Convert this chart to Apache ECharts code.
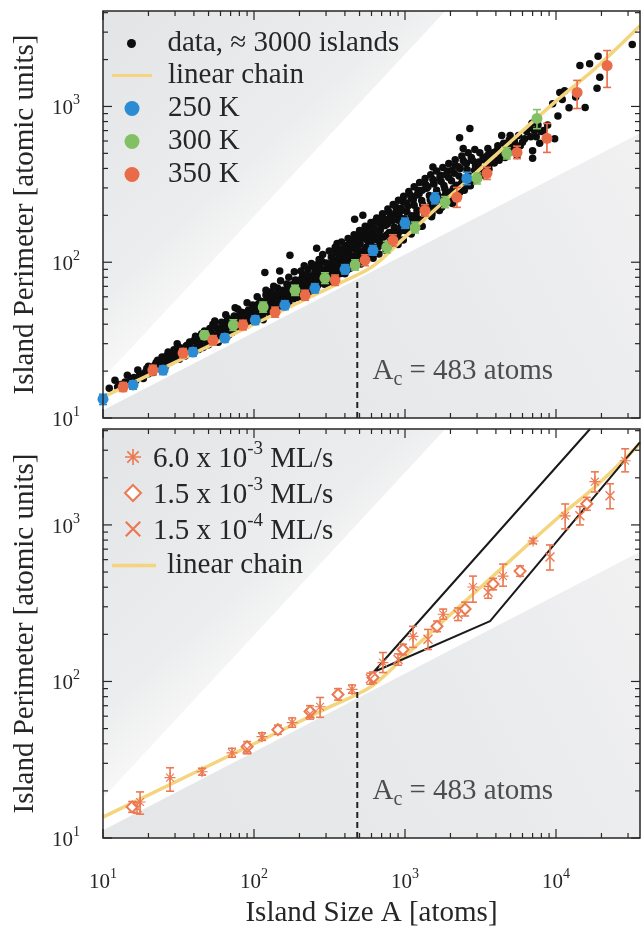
<!DOCTYPE html>
<html>
<head>
<meta charset="utf-8">
<title>Island perimeter vs island size</title>
<script src="https://cdn.jsdelivr.net/npm/echarts@6.0.0/dist/echarts.min.js"></script>
</head>
<body style="margin:0;background:#fff">
<div id="main" style="width:644px;height:929px"></div>
<script>
// axis ranges
var xMin = 10, xMax = 36000, yMin = 10, yMax = 4100;

// tick positions (log axes, drawn by hand so minor ticks sit on 2..9)
var xTicksMajor = [10, 100, 1000, 10000];
var xTicksMinor = [20, 30, 40, 50, 60, 70, 80, 90, 200, 300, 400, 500, 600, 700, 800, 900,
    2000, 3000, 4000, 5000, 6000, 7000, 8000, 9000, 20000, 30000];
var yTicksMajor = [10, 100, 1000];
var yTicksMinor = [20, 30, 40, 50, 60, 70, 80, 90, 200, 300, 400, 500, 600, 700, 800, 900, 2000, 3000, 4000];

// borders of the allowed (white) band
var compactEdge = [[10, 11.2], [36000, 673]];
var chainEdge = [[10, 18], [1850, 4100]];

// linear chain model curve
var chainCurve = [[10, 13.6], [100, 40], [300, 67], [600, 93], [1000, 145], [2000, 268],
    [3830, 471], [10000, 1083], [18500, 1780], [36000, 3300]];

// critical size marker
var acTop = [[483, 10], [483, 76]];
var acBottom = [[483, 10], [483, 90]];
var acLabelPos = [[604, 19.4]];

var cloudPts = [
    [11, 15.5], [12, 17.5], [12.5, 15.8], [13, 16.4], [14, 17], [14.5, 18.8], [15, 16.9], [16, 18.2],
    [16.5, 17.4], [17, 20.3], [18, 18.5], [19, 19.6], [20, 19.2], [20, 21.5],
    [21, 20.4], [22, 21.8], [23, 23.5], [24, 20.9], [24.6, 24.6], [25, 22.4], [26, 21.6], [27, 23.8],
    [27, 26.5], [28, 22.9], [29, 25.1], [30, 24], [31, 30], [31, 26.8], [32, 23.8], [33, 25.5],
    [34, 27.6], [35, 25], [36, 29.3], [37, 26.4], [38, 28.6], [39, 27.2], [40, 31.5], [40, 26.8],
    [42, 29], [43, 27.5], [44, 32.8], [45, 30.2], [46, 28.3], [48, 33.6], [49, 30.7], [50, 29.5],
    [52, 35.4], [53.5, 40], [54, 31.6], [56, 33.2], [57, 37.5], [58, 30.6], [60, 34.8], [62, 38.5],
    [63, 32.4], [65, 36.9], [66, 41.6], [68, 34.1], [70, 39.2], [72, 35.5], [75, 51], [75, 42.3],
    [76, 37.6], [78, 40.8], [80, 44.6], [82, 38.3], [84, 47.5], [86, 41.2], [88, 43.8], [90, 39.6],
    [92, 49.3], [94, 44.5], [96, 41.8], [98, 53.2], [100, 46.5],
    [102, 42.4], [105, 50.6], [108, 44.9], [110, 56.3], [112, 47.1], [115, 42.8], [118, 86], [118, 52.5],
    [120, 61.5], [122, 48.2], [125, 55.4], [128, 50.8], [130, 64.7], [133, 46.9], [136, 58.1], [140, 52.6],
    [143, 68.2], [148, 88], [148, 55.7], [150, 60.4], [153, 51.3], [157, 64.9], [160, 57.8], [165, 72.5],
    [170, 54.6], [173, 111], [173, 62.4], [178, 68.9], [183, 58.3], [188, 76.8], [193, 65.2], [198, 60.5],
    [205, 71.4], [210, 82.3], [215, 63.8], [220, 74.6], [228, 90.5], [235, 68.1], [240, 79.3], [248, 70.4],
    [255, 86.7], [260, 123], [262, 96.2], [268, 74.8], [275, 83.5], [282, 101], [290, 78.2], [298, 90.1],
    [305, 72.5], [312, 97.4], [318, 84.3], [325, 108], [333, 79.6], [340, 92.8], [348, 116], [355, 132],
    [355, 86.5], [362, 101], [370, 89.4], [378, 121], [385, 95.6], [393, 108], [400, 84.2], [410, 128],
    [418, 99.3], [425, 114], [433, 91.5], [442, 137], [450, 105], [464, 189], [464, 122], [475, 98.5],
    [485, 146], [495, 112], [505, 131], [526, 200], [518, 104], [530, 158], [542, 121], [555, 140],
    [568, 113], [580, 169], [594, 132], [608, 151], [620, 118], [635, 183], [650, 140], [668, 126],
    [685, 160], [700, 194],
    [720, 131], [740, 172], [760, 150], [780, 210], [800, 136], [820, 184], [845, 159], [870, 226],
    [895, 148], [920, 196], [945, 172], [970, 245], [1000, 160], [1030, 210], [1060, 186], [1090, 268],
    [1120, 172], [1150, 232], [1185, 201], [1220, 290], [1255, 188], [1290, 249], [1330, 218], [1370, 315],
    [1410, 205], [1450, 268], [1490, 236], [1530, 408], [1530, 340], [1575, 222], [1620, 290], [1665, 255],
    [1710, 362], [1760, 238], [1810, 311], [1860, 276], [1915, 385], [1970, 260],
    [2030, 334], [2090, 297], [2150, 420], [2210, 282], [2300, 630], [2280, 358], [2350, 318], [2430, 537],
    [2430, 450], [2500, 305], [2580, 392], [2660, 346], [2690, 722], [2750, 470], [2840, 332], [2930, 418],
    [3030, 375], [3130, 505], [3240, 362], [3350, 455], [3460, 410], [3540, 537], [3600, 395], [3750, 468],
    [3900, 434], [4050, 520], [4200, 452], [4370, 650], [4400, 498], [4600, 470], [4800, 545], [4970, 650],
    [5000, 510], [5300, 600], [5530, 485], [5800, 560], [6200, 620], [6700, 730], [6930, 780], [7000, 520],
    [7000, 465], [7400, 640], [7800, 580],
    [8300, 700], [8800, 760], [9500, 1040], [9800, 620], [10300, 870], [10600, 1230], [11000, 1110],
    [11400, 1260], [12200, 980], [13500, 1150], [14400, 1830], [15600, 985], [16700, 1880], [18700, 1310],
    [19000, 2100], [19500, 1540], [32000, 2500],
    // denser core of the band
    [15.5, 17.8], [17.5, 19.2], [18.5, 17.9], [19.5, 20.8], [21.5, 19.6], [22.5, 22.7], [23.5, 21.2],
    [25.5, 23.6], [26.5, 25.2], [28.5, 24.2], [29.5, 27.4], [31.5, 25.1], [32.5, 28.2], [34.5, 26.2],
    [35.5, 28.9], [37.5, 30.8], [38.5, 27.9], [41, 28.1], [41, 33.5],
    [43, 31.2], [45, 34.8], [47, 30.4], [47, 36.2], [49, 32.9], [51, 31.1], [51, 37.6], [53, 34.2],
    [55, 30.9], [55, 39.1], [57, 33.8], [59, 36.3], [61, 32.2], [61, 41.2], [64, 35.7], [64, 39.4],
    [67, 37.8], [67, 43.5], [69, 36.2], [71, 41.6], [73, 38.3], [74, 45.2], [77, 39.9], [79, 43.1],
    [81, 37.9], [81, 47.9], [83, 41.7], [85, 44.4], [87, 39.4], [89, 46.6], [91, 42.3], [93, 40.4],
    [95, 47.9], [97, 43.6], [99, 50.7],
    [101, 44.7], [104, 48.2], [106, 53.5], [109, 46.8], [111, 51.2], [114, 45.1], [116, 55.8], [119, 49.4],
    [121, 53.9], [124, 58.7], [126, 47.6], [129, 56.2], [131, 51.9], [134, 61.3], [137, 54.3], [139, 49.3],
    [142, 57.6], [145, 63.8], [147, 52.4], [151, 56.7], [155, 66.2], [158, 54.3], [162, 60.8], [166, 57.2],
    [168, 68.6], [172, 59.5], [176, 64.5], [181, 72.1], [185, 61.1], [190, 66.8], [195, 71.3], [200, 58.7],
    [203, 77.2], [207, 64.1], [212, 69.5], [218, 75.8], [224, 66.2], [230, 81.7], [233, 71.5], [238, 63.9],
    [244, 76.4], [251, 84.2], [252, 66.1], [258, 78.5], [265, 71.5], [272, 92.7], [278, 77.5], [285, 84.6],
    [293, 72.1], [300, 88.2],
    [308, 79.5], [315, 91.3], [322, 75.2], [330, 98.5], [337, 86.2], [345, 102], [352, 80.7], [360, 94.4],
    [367, 108], [375, 84.5], [382, 98.1], [390, 115], [397, 91.3], [405, 104], [413, 88.7], [421, 120],
    [429, 97.6], [437, 109], [446, 125], [455, 93.4], [460, 110], [470, 132], [480, 102], [490, 120],
    [500, 138], [510, 97.5], [522, 115], [535, 144], [548, 109], [560, 126], [574, 150], [588, 117],
    [602, 139], [615, 106], [628, 162], [642, 125], [657, 148], [672, 113], [690, 137], [705, 170],
    [725, 146], [745, 124], [765, 176], [785, 155], [805, 131], [830, 200], [850, 168], [875, 143],
    [900, 186], [925, 158], [950, 215], [975, 139], [990, 190],
    [1015, 176], [1045, 230], [1075, 158], [1105, 199], [1135, 252], [1165, 184], [1200, 216], [1240, 275],
    [1270, 170], [1310, 235], [1350, 202], [1390, 298], [1430, 225], [1470, 252], [1510, 205], [1555, 318],
    [1600, 240], [1640, 272], [1690, 215], [1735, 330], [1785, 261], [1835, 296], [1890, 244], [1945, 350],
    [2000, 282], [2060, 238], [2120, 372], [2180, 312], [2240, 266], [2320, 400], [2400, 335], [2470, 290],
    [2550, 430], [2630, 360], [2710, 310], [2800, 450], [2890, 390], [2980, 345],
    [3080, 440], [3180, 400], [3290, 470], [3400, 390], [3520, 485], [3650, 430], [3800, 505], [3950, 455],
    [4120, 560], [4300, 490], [4500, 580], [4700, 520], [4900, 610], [5100, 545], [5400, 560], [5650, 650],
    [6000, 590], [6400, 690], [6800, 640], [7200, 700], [7600, 760], [8000, 690],
    // upper fringe of the band
    [55, 42], [65, 46], [78, 50], [90, 55], [105, 60], [120, 66], [135, 70], [150, 76], [170, 80], [185, 87],
    [205, 88], [215, 95], [225, 84], [240, 98], [252, 92], [270, 104], [285, 112], [300, 99], [315, 118],
    [330, 107], [345, 125], [365, 118], [380, 135], [400, 126], [420, 142], [440, 131], [460, 150],
    [480, 141], [500, 160], [520, 148], [545, 170], [570, 158], [595, 180], [620, 166], [650, 192],
    [680, 176], [710, 205], [740, 188], [770, 220], [800, 198], [835, 235], [870, 210], [905, 250],
    [940, 222], [980, 265], [1020, 240], [1060, 285], [1100, 255], [1150, 305], [1200, 270], [1250, 325],
    [1300, 290], [1360, 345], [1420, 305], [1480, 365], [1550, 325], [1620, 385], [1700, 345], [1780, 405],
    [1860, 365], [1950, 430], [2050, 390], [2150, 455], [2260, 410], [2380, 480], [2500, 435], [2620, 505],
    [2760, 460], [2900, 530],
    // just under the chain curve
    [750, 118], [900, 130], [1100, 152], [1300, 170], [1500, 196], [1750, 225], [2000, 248], [2300, 280],
    [2600, 310], [3000, 352], [3400, 395], [3900, 440], [4500, 500]
];

// top panel averages: [A, P, low, high]
var k250 = [[10, 13.2, 12.2, 14.2], [15.8, 16.3, 15.3, 17.3], [25, 20.3, 19, 21.6], [39.4, 26.5, 24.9, 28.2],
    [64, 32.6, 30.6, 34.7], [102, 42.5, 39.8, 45.3], [160, 53, 49.6, 56.6], [253, 68, 63.5, 72.8],
    [401, 90, 84, 96.5], [614, 119, 111, 128], [1000, 178, 165, 192], [1580, 257, 237, 279],
    [2570, 345, 315, 378]];
var k300 = [[47, 34, 32, 36.2], [73, 39.5, 36.5, 42.7], [115, 51.5, 47.8, 55.5], [187, 66, 61.2, 71.2],
    [295, 79, 73, 85.5], [467, 96, 89, 103.6], [758, 125, 115, 136], [1165, 167, 154, 181],
    [1840, 243, 224, 264], [3000, 345, 318, 374], [4730, 500, 460, 544], [7480, 838, 720, 955]];
var k350 = [[13.6, 15.8, 14.8, 16.9], [21.4, 20.3, 18.9, 21.8], [33.9, 26.1, 24.4, 27.9], [53.5, 31.6, 29.5, 33.8],
    [84.5, 39.5, 36.8, 42.4], [138, 47.8, 44.4, 51.5], [218, 61.4, 57, 66.1], [344, 76.7, 71, 82.8],
    [543, 103, 95, 111.6], [832, 138, 127, 150], [1355, 215, 198, 234], [2206, 261, 225, 302],
    [3490, 372, 340, 407], [5520, 507, 462, 556], [8710, 624, 507, 778], [13800, 1230, 970, 1470],
    [21800, 1830, 1325, 2285]];

// bottom panel, deposition rates: [A, P, low, high]
var rateHigh = [[17.6, 17, 14.2, 19.7], [27.8, 24.3, 19.9, 28.1], [45.3, 26.5, 25.2, 27.9], [71.5, 35, 32.8, 37.4],
    [113, 44.4, 42, 47], [179, 54.6, 51, 58.5], [274, 69, 59, 79], [446, 89, 84, 95], [714, 132, 114, 153],
    [1130, 194, 165, 225], [1790, 269, 250, 290], [2820, 401, 321, 471], [4460, 471, 406, 562],
    [7050, 789, 760, 820], [11500, 1143, 943, 1361], [18100, 1890, 1623, 2183], [28700, 2570, 2183, 3063]];
var rateMid = [[15.6, 15.8, 14.6, 17.1], [90, 38.3, 35.5, 41.3], [144, 49.2, 46, 52.6], [235, 64.3, 59, 70],
    [360, 82.6, 76, 90], [614, 106, 98, 115], [970, 160, 148, 173], [1630, 225, 208, 243],
    [2500, 290, 262, 321], [3830, 419, 385, 456], [5780, 507, 470, 547], [16000, 1365, 1240, 1500]];
var rateLow = [[16.8, 15.6, 14.4, 16.9], [90, 37, 34.5, 39.7], [235, 62, 57.5, 66.8], [590, 104, 96, 113],
    [899, 138, 127, 150], [1420, 186, 160, 215], [2245, 269, 245, 295], [3550, 372, 340, 405],
    [9120, 625, 515, 745], [14400, 1143, 1000, 1310], [22800, 1535, 1268, 1832]];

// wedge drawn around the bottom data
var wedgeEdge = [[16800, 4100], [620, 115], [3660, 243], [36000, 3380]];

var serif = '"Liberation Serif", "DejaVu Serif", serif';
var ink = '#262626';
var yellow = '#f4d47c';
var blue = '#2b8bd3', green = '#83c063', red = '#ea6b47', salmon = '#eb7a52';

var asteriskPath = 'path://M9,0 L11,0 L11,20 L9,20 Z M0,9 L20,9 L20,11 L0,11 Z M2.2,3.6 L3.6,2.2 L17.8,16.4 L16.4,17.8 Z M16.4,2.2 L17.8,3.6 L3.6,17.8 L2.2,16.4 Z';
var crossPath = 'path://M2,0 L10,8 L18,0 L20,2 L12,10 L20,18 L18,20 L10,12 L2,20 L0,18 L8,10 L0,2 Z';
var lineIcon = 'path://M0,0 L40,0 L40,3 L0,3 Z';

var powRich = {
    b: {fontFamily: serif, fontSize: 21, color: ink, lineHeight: 26, verticalAlign: 'bottom'},
    sup: {fontFamily: serif, fontSize: 14, color: ink, lineHeight: 14, verticalAlign: 'top'}
};
function powLabel(v) {
    var e = Math.round(Math.log(v) / Math.LN10);
    if (Math.abs(v - Math.pow(10, e)) > 1e-6 * v) return '';
    return '{b|10}{sup|' + e + '}';
}

function shadeItem(params, api) {
    var low = compactEdge.map(function (p) { return api.coord(p); });
    low.push(api.coord([xMax, yMin]), api.coord([xMin, yMin]));
    var up = chainEdge.map(function (p) { return api.coord(p); });
    up.push(api.coord([xMin, yMax]));
    return {type: 'group', children: [
        {type: 'polygon', shape: {points: low}, style: {
            fill: new echarts.graphic.LinearGradient(0, 1, 1, 0, [
                {offset: 0, color: '#e5e6e8'}, {offset: 0.6, color: '#e9eaec'}, {offset: 1, color: '#f1f1f2'}])}},
        {type: 'polygon', shape: {points: up}, style: {
            fill: new echarts.graphic.LinearGradient(0, 0, 0.55, 0.55, [
                {offset: 0, color: '#e3e4e6'}, {offset: 0.75, color: '#ecedee'}, {offset: 1, color: '#f8f8f8'}])}}
    ]};
}

function frameItem(params, api) {
    var cs = params.coordSys;
    var x0 = cs.x, y0 = cs.y, x1 = cs.x + cs.width, y1 = cs.y + cs.height;
    var kids = [{type: 'rect', shape: {x: x0, y: y0, width: cs.width, height: cs.height},
        style: {fill: 'none', stroke: ink, lineWidth: 1.5}}];
    function tick(xa, ya, xb, yb) {
        kids.push({type: 'line', shape: {x1: xa, y1: ya, x2: xb, y2: yb}, style: {stroke: ink, lineWidth: 1.2}});
    }
    function xTicks(list, len) {
        list.forEach(function (v) {
            var px = api.coord([v, yMin])[0];
            tick(px, y1, px, y1 - len);
            tick(px, y0, px, y0 + len);
        });
    }
    function yTicks(list, len) {
        list.forEach(function (v) {
            var py = api.coord([xMin, v])[1];
            tick(x0, py, x0 + len, py);
            tick(x1, py, x1 - len, py);
        });
    }
    xTicks(xTicksMajor, 9); xTicks(xTicksMinor, 5);
    yTicks(yTicksMajor, 9); yTicks(yTicksMinor, 5);
    return {type: 'group', children: kids};
}

function errItem(params, api) {
    var a = api.value(0);
    var lo = api.coord([a, api.value(2)]);
    var hi = api.coord([a, api.value(3)]);
    var c = api.visual('color');
    var w = 4;
    var st = {stroke: c, lineWidth: 1.6};
    return {type: 'group', children: [
        {type: 'line', shape: {x1: lo[0], y1: lo[1], x2: hi[0], y2: hi[1]}, style: st},
        {type: 'line', shape: {x1: lo[0] - w, y1: lo[1], x2: lo[0] + w, y2: lo[1]}, style: st},
        {type: 'line', shape: {x1: hi[0] - w, y1: hi[1], x2: hi[0] + w, y2: hi[1]}, style: st}
    ]};
}

var acRich = {
    t: {fontFamily: serif, fontSize: 29, color: ink, lineHeight: 33, verticalAlign: 'top'},
    sub: {fontFamily: serif, fontSize: 20, color: ink, lineHeight: 20, verticalAlign: 'bottom'}
};

function xAxisFor(gi, showLabels) {
    return {
        type: 'log', logBase: 10, gridIndex: gi, min: xMin, max: xMax,
        axisLine: {show: false}, axisTick: {show: false}, splitLine: {show: false},
        axisLabel: {show: showLabels, formatter: powLabel, margin: 29, rich: powRich},
        name: showLabels ? 'Island Size A [atoms]' : '', nameLocation: 'middle', nameGap: 61,
        nameTextStyle: {fontFamily: serif, fontSize: 29, color: ink}
    };
}
function yAxisFor(gi) {
    return {
        type: 'log', logBase: 10, gridIndex: gi, min: yMin, max: yMax,
        axisLine: {show: false}, axisTick: {show: false}, splitLine: {show: false},
        axisLabel: {formatter: powLabel, margin: 23, rich: powRich, showMinLabel: true},
        name: 'Island Perimeter [atomic units]', nameLocation: 'middle', nameGap: 63,
        nameTextStyle: {fontFamily: serif, fontSize: 29, color: ink}
    };
}

var series = [];
[0, 1].forEach(function (gi) {
    series.push({type: 'custom', xAxisIndex: gi, yAxisIndex: gi, z: -1, silent: true,
        data: [[xMin, yMin]], renderItem: shadeItem});
    series.push({type: 'custom', xAxisIndex: gi, yAxisIndex: gi, z: 10, silent: true,
        data: [[xMin, yMin]], renderItem: frameItem});
    series.push({type: 'line', name: 'linear chain', xAxisIndex: gi, yAxisIndex: gi, data: chainCurve,
        smooth: 0.3, symbol: 'none', lineStyle: {color: yellow, width: 3.5}, itemStyle: {color: yellow}, z: 3});
    series.push({type: 'line', xAxisIndex: gi, yAxisIndex: gi, data: gi ? acBottom : acTop, symbol: 'none',
        lineStyle: {color: '#222', width: 2, type: [6, 4]}, z: 3, silent: true});
    series.push({type: 'scatter', xAxisIndex: gi, yAxisIndex: gi, data: acLabelPos, symbolSize: 1,
        itemStyle: {color: 'transparent'}, silent: true,
        label: {show: true, position: 'right', distance: 0, formatter: '{t|A}{sub|c}{t| = 483 atoms}', rich: acRich}});
});

series.push({type: 'scatter', name: 'data, ≈ 3000 islands', xAxisIndex: 0, yAxisIndex: 0, data: cloudPts,
    symbolSize: 7.5, itemStyle: {color: '#0d0d0d', opacity: 1}, z: 2});

function withErrors(name, data, color, gi, symbol, itemStyle, size) {
    series.push({type: 'custom', xAxisIndex: gi, yAxisIndex: gi, data: data, renderItem: errItem,
        encode: {x: 0, y: [1, 2, 3]}, itemStyle: {color: color}, z: 4, silent: true});
    itemStyle.opacity = 1;
    series.push({type: 'scatter', name: name, xAxisIndex: gi, yAxisIndex: gi, data: data,
        encode: {x: 0, y: 1}, symbol: symbol, symbolSize: size, itemStyle: itemStyle, z: 5});
}
withErrors('250 K', k250, blue, 0, 'circle', {color: blue}, 11);
withErrors('300 K', k300, green, 0, 'circle', {color: green}, 11);
withErrors('350 K', k350, red, 0, 'circle', {color: red}, 11);

series.push({type: 'line', xAxisIndex: 1, yAxisIndex: 1, data: wedgeEdge, symbol: 'none',
    lineStyle: {color: '#1a1a1a', width: 2}, z: 3, silent: true});
withErrors('6.0 x 10^-3 ML/s', rateHigh, salmon, 1, asteriskPath, {color: salmon}, 11);
withErrors('1.5 x 10^-3 ML/s', rateMid, salmon, 1, 'diamond', {color: '#fff', borderColor: salmon, borderWidth: 2}, 11);
withErrors('1.5 x 10^-4 ML/s', rateLow, salmon, 1, crossPath, {color: salmon}, 10);

var legendText = {fontFamily: serif, fontSize: 29, color: ink, padding: [0, 0, 0, 11]};
var rateRich = {
    t: {fontFamily: serif, fontSize: 29, color: ink, lineHeight: 34, verticalAlign: 'bottom'},
    sup: {fontFamily: serif, fontSize: 19, color: ink, lineHeight: 19, verticalAlign: 'top'}
};

var chart = echarts.init(document.getElementById('main'));
chart.setOption({
    animation: false,
    backgroundColor: '#fff',
    grid: [
        {left: 103, top: 11, width: 537, height: 407, outerBoundsMode: 'none'},
        {left: 103, top: 429, width: 537, height: 409, outerBoundsMode: 'none'}
    ],
    xAxis: [xAxisFor(0, false), xAxisFor(1, true)],
    yAxis: [yAxisFor(0), yAxisFor(1)],
    legend: [
        {left: 127, top: 29, padding: 0, orient: 'vertical', itemWidth: 40, itemHeight: 9,
            selectedMode: false, textStyle: legendText,
            data: [{name: 'data, ≈ 3000 islands', icon: 'circle'}]},
        {left: 112, top: 61, padding: 0, orient: 'vertical', itemWidth: 40, itemHeight: 15, itemGap: 4,
            selectedMode: false, textStyle: legendText,
            data: [{name: 'linear chain', icon: lineIcon}, '250 K', '300 K', '350 K']},
        {left: 124, top: 440, padding: 0, orient: 'vertical', itemWidth: 16, itemHeight: 16, itemGap: 2,
            selectedMode: false, data: ['6.0 x 10^-3 ML/s', '1.5 x 10^-3 ML/s', '1.5 x 10^-4 ML/s'],
            textStyle: {fontFamily: serif, fontSize: 29, color: ink, rich: rateRich, padding: [0, 0, 0, 7]},
            formatter: function (name) {
                var m = name.split('^');
                var exp = m[1].split(' ')[0];
                return '{t|' + m[0] + '}{sup|' + exp + '}{t| ML/s}';
            }},
        {left: 112, top: 551, padding: 0, orient: 'vertical', itemWidth: 44, itemHeight: 15,
            selectedMode: false, data: [{name: 'linear chain', icon: lineIcon}],
            textStyle: {fontFamily: serif, fontSize: 29, color: ink, padding: [0, 0, 0, 6]}}
    ],
    series: series
});
</script>
</body>
</html>
